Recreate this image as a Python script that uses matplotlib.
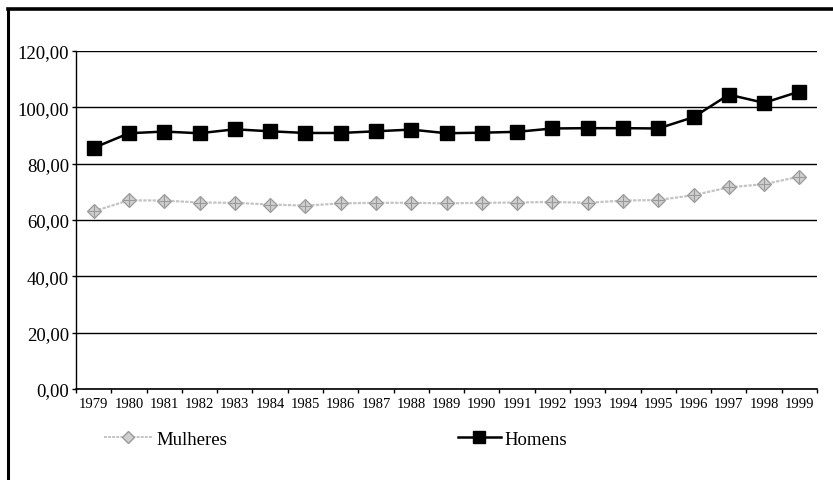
import numpy as np
import matplotlib
matplotlib.use("Agg")
import matplotlib.pyplot as plt
from matplotlib.lines import Line2D

plt.rcParams['font.family'] = ['Liberation Serif', 'DejaVu Serif']

anos = [str(a) for a in range(1979, 2000)]
mulheres = [63.1, 67.0, 66.9, 66.2, 66.1, 65.5, 65.1, 65.9, 66.1, 66.1, 65.9,
            66.1, 66.2, 66.4, 66.1, 66.9, 67.1, 68.8, 71.6, 72.7, 75.4]
homens = [85.6, 90.8, 91.4, 90.8, 92.2, 91.5, 90.9, 90.9, 91.5, 92.1, 90.8,
          91.0, 91.3, 92.5, 92.6, 92.6, 92.5, 96.5, 104.5, 101.6, 105.6]
y_ticks = [0, 20, 40, 60, 80, 100, 120]
y_labels = ['0,00', '20,00', '40,00', '60,00', '80,00', '100,00', '120,00']

fig = plt.figure(figsize=(8.33, 4.81), dpi=100)
ax = fig.add_axes([76 / 833, 1 - 390 / 481, 741 / 833, 338 / 481])

x = np.arange(len(anos))
ax.plot(x, mulheres, color='#c4c4c4', lw=1.6, ls=(0, (1.5, 0.6)),
        marker='D', ms=7, mfc='#cfcfcf', mec='#9a9a9a', mew=0.9, zorder=3)
ax.plot(x, mulheres, ls='none', marker='+', ms=9, mec='#9a9a9a', mew=0.8, zorder=4)
ax.plot(x, homens, color='black', lw=1.8, marker='s', ms=10,
        mfc='black', mec='black', zorder=5)

ax.set_xlim(-0.5, len(anos) - 0.5)
ax.set_ylim(0, 120)
ax.set_yticks(y_ticks)
ax.set_yticklabels(y_labels, fontsize=13.5)
ax.set_xticks(x)
ax.set_xticklabels(anos, fontsize=10.5)
ax.set_xticks(np.arange(len(anos) + 1) - 0.5, minor=True)
ax.tick_params(axis='x', which='major', length=0, pad=6)
ax.tick_params(axis='x', which='minor', length=3, width=1, direction='out')
ax.tick_params(axis='y', length=3, width=1, direction='out', pad=2)

ax.yaxis.grid(True, color='black', lw=1)
ax.set_axisbelow(True)
for s in ['top', 'right']:
    ax.spines[s].set_visible(False)
ax.spines['left'].set_linewidth(1)
ax.spines['bottom'].set_linewidth(1.2)

# legend below the plot
h1 = Line2D([], [], color='#c4c4c4', lw=1.4, ls=(0, (1.5, 0.6)), marker='D', ms=6,
            mfc='#cfcfcf', mec='#9a9a9a')
h2 = Line2D([], [], color='black', lw=1.8, marker='s', ms=8, mfc='black')
fig.legend([h1], ['Mulheres'], loc='center left', bbox_to_anchor=(87 / 833, 1 - 440 / 481),
           frameon=False, fontsize=13.5, handlelength=2.6, handletextpad=0.2)
fig.legend([h2], ['Homens'], loc='center left', bbox_to_anchor=(441 / 833, 1 - 440 / 481),
           frameon=False, fontsize=13.5, handlelength=2.3, handletextpad=0.2)

# outer frame (left and top edges)
fig.add_artist(Line2D([8 / 833, 8 / 833], [0, 1 - 10 / 481], color='black', lw=2.2,
                      transform=fig.transFigure))
fig.add_artist(Line2D([8 / 833, 1], [1 - 10 / 481, 1 - 10 / 481], color='black', lw=2.6,
                      transform=fig.transFigure))

fig.savefig('out.png', dpi=100)
